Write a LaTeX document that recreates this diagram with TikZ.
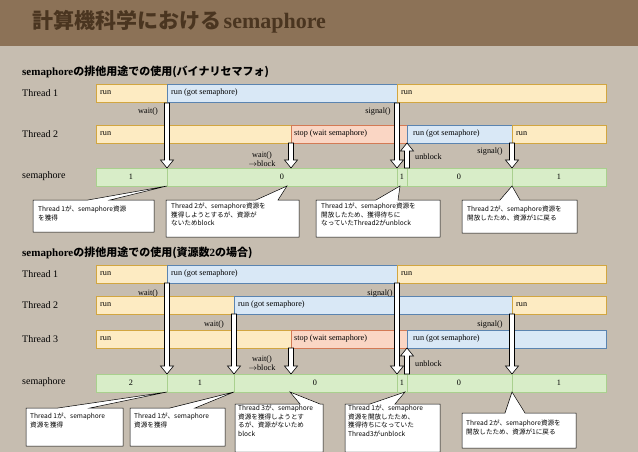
\documentclass[tikz,border=0pt]{standalone}
\usepackage{fontspec}
\setmainfont{Liberation Serif}
\newfontfamily\jp{Noto Sans CJK JP}
\definecolor{bgc}{HTML}{C6BDB0}
\definecolor{titlebg}{HTML}{8C7257}
\definecolor{titlefg}{HTML}{4A3520}
\definecolor{runf}{HTML}{FDEBC2}\definecolor{rund}{HTML}{D2A640}
\definecolor{gotf}{HTML}{D9E8F6}\definecolor{gotd}{HTML}{5B84B0}
\definecolor{stopf}{HTML}{FAD6C4}\definecolor{stopd}{HTML}{D37A55}
\definecolor{semf}{HTML}{D8EDC8}\definecolor{semd}{HTML}{A9D08E}
\tikzset{
 x=1pt,y=-1pt,
 seg/.style={draw,line width=0.8pt},
 runseg/.style={seg,fill=runf,draw=rund},
 gotseg/.style={seg,fill=gotf,draw=gotd},
 stopseg/.style={seg,fill=stopf,draw=stopd},
 semseg/.style={seg,fill=semf,draw=semd},
 lbl/.style={font=\fontsize{8.2}{9}\selectfont,inner sep=0pt},
 rowlbl/.style={font=\fontsize{10}{11}\selectfont,anchor=west,inner sep=0pt},
 sub/.style={font=\bfseries\jp\fontsize{11}{13}\selectfont,anchor=west,inner sep=0pt},
 callout/.style={fill=white,draw=black,line width=0.5pt},
 ctext/.style={font=\jp\fontsize{6.6}{8.6}\selectfont,align=left,anchor=north west,inner sep=0pt},
 barrow/.style={fill=white,draw=black,line width=0.6pt}
}
\newcommand\BArrow[3]{\pgfmathsetmacro\dir{#3>#2?1:-1}
 \path[barrow] (#1-2.5,#2) -- (#1-2.5,#3-\dir*8) -- (#1-6.5,#3-\dir*8) -- (#1,#3) -- (#1+6.5,#3-\dir*8) -- (#1+2.5,#3-\dir*8) -- (#1+2.5,#2) -- cycle;}
\newcommand\Callout[8]{\path[callout] (#1,#2) -- (#5,#2) -- (#7,#8) -- (#6,#2) -- (#3,#2) -- (#3,#4) -- (#1,#4) -- cycle;}
\begin{document}
\begin{tikzpicture}
\fill[bgc] (0,0) rectangle (638,452);
\useasboundingbox (0,0) rectangle (638,452);
\fill[titlebg] (0,0) rectangle (638,46);
\node[anchor=west,inner sep=0pt,text=titlefg] (title) at (32,22) {{\jp\bfseries\fontsize{21}{24}\selectfont 計算機科学における} {\bfseries\fontsize{22}{24}\selectfont semaphore}};

% ===== Section 1
\node[sub] (s1) at (22,72) {{\rmfamily semaphore}の排他用途での使用({\rmfamily\bfseries}バイナリセマフォ)};
\node[rowlbl] (t1a) at (22,93) {Thread 1};
\node[rowlbl] (t2a) at (22,134) {Thread 2};
\node[rowlbl] (sema) at (22,176) {semaphore};

\path[runseg] (96,84) rectangle (167,102); \node[lbl,anchor=west] (a1) at (100,93) {run};
\path[gotseg] (167,84) rectangle (397,102); \node[lbl,anchor=west] (a2) at (171,93) {run (got semaphore)};
\path[runseg] (397,84) rectangle (606,102); \node[lbl,anchor=west] (a3) at (401,93) {run};

\path[runseg] (96,125) rectangle (291,143); \node[lbl,anchor=west] (b1) at (100,134) {run};
\path[stopseg] (291,125) rectangle (407,143); \node[lbl,anchor=west] (b2) at (294,134) {stop (wait semaphore)};
\path[gotseg] (407,125) rectangle (512,143); \node[lbl,anchor=west] (b3) at (413,134) {run (got semaphore)};
\path[runseg] (512,125) rectangle (606,143); \node[lbl,anchor=west] (b4) at (516,134) {run};

\path[semseg] (96,168) rectangle (167,186); \node[lbl] (c1) at (131,177) {1};
\path[semseg] (167,168) rectangle (397,186); \node[lbl] (c2) at (282,177) {0};
\path[semseg] (397,168) rectangle (407,186); \node[lbl] (c3) at (402,177) {1};
\path[semseg] (407,168) rectangle (512,186); \node[lbl] (c4) at (459,177) {0};
\path[semseg] (512,168) rectangle (606,186); \node[lbl] (c5) at (559,177) {1};

\node[lbl] (w1) at (148,112) {wait()};
\node[lbl] (g1) at (378,112) {signal()};
\node[lbl,align=center] (w2) at (262,159) {wait()\\$\rightarrow$block};
\node[lbl,anchor=west] (u1) at (415,157) {unblock};
\node[lbl] (g2) at (490,152) {signal()};

\BArrow{167}{103}{168}
\BArrow{397}{103}{168}
\BArrow{291}{143}{168}
\BArrow{407}{168}{143}
\BArrow{512}{143}{168}

\Callout{33}{200}{154}{232}{88}{110}{167}{186}
\node[ctext] (k1) at (38,206) {Thread 1が、semaphore資源\\を獲得};
\Callout{166}{200}{299}{237}{256}{278}{287}{186}
\node[ctext] (k2) at (171,203) {Thread 2が、semaphore資源を\\獲得しようとするが、資源が\\ないためblock};
\Callout{316}{200}{440}{237}{376}{398}{400}{186}
\node[ctext] (k3) at (321,203) {Thread 1が、semaphore資源を\\開放したため、獲得待ちに\\なっていたThread2がunblock};
\Callout{462}{200}{577}{233}{500}{520}{512}{186}
\node[ctext] (k4) at (467,206) {Thread 2が、semaphore資源を\\開放したため、資源が1に戻る};

% ===== Section 2
\node[sub] (s2) at (22,253) {{\rmfamily semaphore}の排他用途での使用(資源数{\rmfamily 2}の場合)};
\node[rowlbl] (t1b) at (22,274) {Thread 1};
\node[rowlbl] (t2b) at (22,305) {Thread 2};
\node[rowlbl] (t3b) at (22,339) {Thread 3};
\node[rowlbl] (semb) at (22,382) {semaphore};

\path[runseg] (96,265) rectangle (167,283); \node[lbl,anchor=west] (d1) at (100,274) {run};
\path[gotseg] (167,265) rectangle (397,283); \node[lbl,anchor=west] (d2) at (171,274) {run (got semaphore)};
\path[runseg] (397,265) rectangle (606,283); \node[lbl,anchor=west] (d3) at (401,274) {run};

\path[runseg] (96,296) rectangle (234,314); \node[lbl,anchor=west] (e1) at (100,305) {run};
\path[gotseg] (234,296) rectangle (512,314); \node[lbl,anchor=west] (e2) at (238,305) {run (got semaphore)};
\path[runseg] (512,296) rectangle (606,314); \node[lbl,anchor=west] (e3) at (516,305) {run};

\path[runseg] (96,330) rectangle (291,348); \node[lbl,anchor=west] (f1) at (100,339) {run};
\path[stopseg] (291,330) rectangle (407,348); \node[lbl,anchor=west] (f2) at (294,339) {stop (wait semaphore)};
\path[gotseg] (407,330) rectangle (606,348); \node[lbl,anchor=west] (f3) at (413,339) {run (got semaphore)};

\path[semseg] (96,374) rectangle (167,392); \node[lbl] (h1) at (131,383) {2};
\path[semseg] (167,374) rectangle (234,392); \node[lbl] (h2) at (200,383) {1};
\path[semseg] (234,374) rectangle (397,392); \node[lbl] (h3) at (315,383) {0};
\path[semseg] (397,374) rectangle (407,392); \node[lbl] (h4) at (402,383) {1};
\path[semseg] (407,374) rectangle (512,392); \node[lbl] (h5) at (459,383) {0};
\path[semseg] (512,374) rectangle (606,392); \node[lbl] (h6) at (559,383) {1};

\node[lbl] (w3) at (148,294) {wait()};
\node[lbl] (g3) at (380,294) {signal()};
\node[lbl] (w4) at (214,325) {wait()};
\node[lbl] (g4) at (490,325) {signal()};
\node[lbl,align=center] (w5) at (262,363) {wait()\\$\rightarrow$block};
\node[lbl,anchor=west] (u2) at (415,364) {unblock};

\BArrow{167}{283}{374}
\BArrow{397}{283}{374}
\BArrow{234}{314}{374}
\BArrow{291}{348}{374}
\BArrow{407}{374}{348}
\BArrow{512}{314}{374}

\Callout{26}{408}{123}{446}{58}{90}{167}{392}
\node[ctext] (m1) at (30,413) {Thread 1が、semaphore\\資源を獲得};
\Callout{130}{408}{225}{446}{170}{195}{234}{392}
\node[ctext] (m2) at (134,413) {Thread 1が、semaphore\\資源を獲得};
\Callout{235}{404}{323}{452}{300}{320}{290}{392}
\node[ctext] (m3) at (238,405) {Thread 3が、semaphore\\資源を獲得しようとす\\るが、資源がないため\\block};
\Callout{345}{404}{440}{452}{370}{395}{405}{392}
\node[ctext] (m4) at (348,405) {Thread 1が、semaphore\\資源を開放したため、\\獲得待ちになっていた\\Thread3がunblock};
\Callout{462}{413}{576}{448}{505}{525}{512}{392}
\node[ctext] (m5) at (466,420) {Thread 2が、semaphore資源を\\開放したため、資源が1に戻る};
\end{tikzpicture}
\end{document}
